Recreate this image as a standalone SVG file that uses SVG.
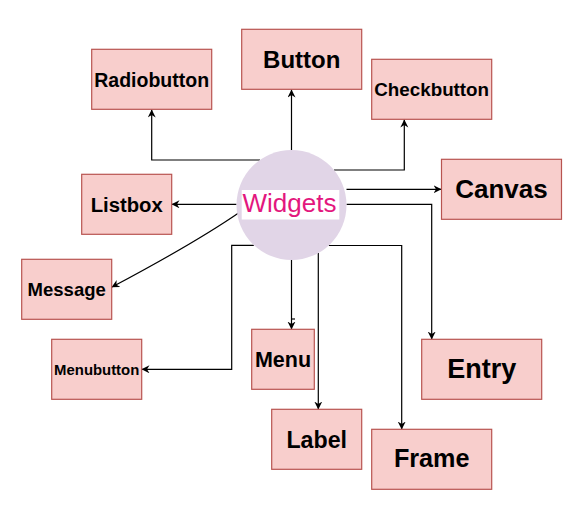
<svg xmlns="http://www.w3.org/2000/svg" width="584" height="508" viewBox="0 0 584 508">
<style>
.box{fill:#f8cecc;stroke:#b85450;stroke-width:1.2}
.lbl{font-family:"Liberation Sans",Arial,sans-serif;font-weight:bold;fill:#000;text-anchor:middle}
.edge{fill:none;stroke:#000;stroke-width:1.2}
.arr{marker-end:url(#arr)}
</style>
<defs>
<marker id="arr" markerWidth="10" markerHeight="10" refX="8" refY="4" orient="auto" markerUnits="userSpaceOnUse">
<path d="M0,0 L8,4 L0,8 L2.5,4 z" fill="#000"/>
</marker>
</defs>
<rect width="584" height="508" fill="#fff"/>
<g id="connectors">
<path class="edge arr" d="M260,160 H151.7 V109.5"/>
<path class="edge arr" d="M291.5,150 V89.5"/>
<path class="edge arr" d="M334,170 H404.3 V119.5"/>
<path class="edge arr" d="M346.5,189.3 H441.5"/>
<path class="edge arr" d="M346.5,204.3 H431.7 V339.5"/>
<path class="edge arr" d="M236.5,204.3 H171.5"/>
<path class="edge arr" d="M240,212 Q195,243 111.5,287.3"/>
<path class="edge arr" d="M253.8,245.3 H231.7 V369.3 H141.5"/>
<path class="edge arr" d="M291.5,260 V329.5"/>
<path class="edge" d="M291.5,319 H295"/>
<path class="edge arr" d="M318.3,253 V409.5"/>
<path class="edge arr" d="M328.8,245.5 H401.7 V429.5"/>
</g>
<g id="widgets">
<circle cx="291.5" cy="205" r="55" fill="#e1d5e7"/>
<rect x="241.7" y="190" width="97.6" height="29.5" fill="#fff"/>
<text x="289.5" y="212" font-family="Liberation Sans,Arial,sans-serif" font-size="26" fill="#e3177e" text-anchor="middle">Widgets</text>
</g>
<g id="radiobutton"><rect class="box" x="91.7" y="49.3" width="120" height="60"/><text class="lbl" x="151.7" y="86.5" font-size="19.5">Radiobutton</text></g>
<g id="button"><rect class="box" x="241.7" y="29.3" width="120" height="60"/><text class="lbl" x="301.7" y="68" font-size="24">Button</text></g>
<g id="checkbutton"><rect class="box" x="371.7" y="59.3" width="120" height="60"/><text class="lbl" x="431.7" y="96" font-size="18.8">Checkbutton</text></g>
<g id="canvas"><rect class="box" x="441.5" y="159.3" width="120" height="60"/><text class="lbl" x="501.5" y="198.3" font-size="26">Canvas</text></g>
<g id="listbox"><rect class="box" x="81.7" y="174.3" width="90" height="60"/><text class="lbl" x="126.7" y="211.5" font-size="20.3">Listbox</text></g>
<g id="message"><rect class="box" x="21.7" y="259.3" width="90" height="60"/><text class="lbl" x="66.7" y="296" font-size="18.5">Message</text></g>
<g id="menubutton"><rect class="box" x="51.7" y="339.3" width="90" height="60"/><text class="lbl" x="96.7" y="374.8" font-size="14.9">Menubutton</text></g>
<g id="menu"><rect class="box" x="251.7" y="329.3" width="62.6" height="60"/><text class="lbl" x="283" y="366.7" font-size="21.5">Menu</text></g>
<g id="entry"><rect class="box" x="421.7" y="339.3" width="120" height="60"/><text class="lbl" x="481.7" y="378.3" font-size="27">Entry</text></g>
<g id="label"><rect class="box" x="271.7" y="409.3" width="90" height="60"/><text class="lbl" x="316.7" y="447.7" font-size="23.2">Label</text></g>
<g id="frame"><rect class="box" x="371.7" y="429.3" width="120" height="60"/><text class="lbl" x="431.7" y="467.3" font-size="25.2">Frame</text></g>
</svg>
